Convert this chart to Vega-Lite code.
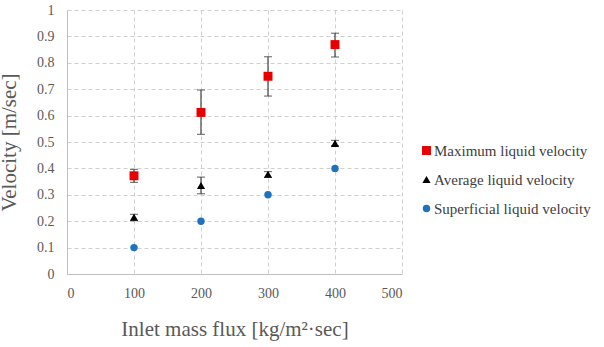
{
  "$schema": "https://vega.github.io/schema/vega-lite/v6.json",
  "autosize": {"type": "none"},
  "width": 335,
  "height": 264,
  "padding": {"left": 67, "top": 10, "right": 202, "bottom": 73},
  "background": "white",
  "config": {
    "view": {"stroke": null},
    "font": "Liberation Serif",
    "style": {"guide-label": {"font": "Liberation Serif"}, "guide-title": {"font": "Liberation Serif"}},
    "axis": {
      "labelFont": "Liberation Serif",
      "titleFont": "Liberation Serif",
      "labelFontSize": 14,
      "labelColor": "#595959",
      "titleColor": "#595959",
      "titleFontSize": 21,
      "titleFontWeight": "normal",
      "domainColor": "#bfbfbf",
      "gridColor": "#d0d0d0",
      "gridDash": [4, 3],
      "ticks": false,
      "labelOverlap": false
    },
    "axisY": {"tickCount": 10, "format": ".1~f", "labelPadding": 13, "titleX": -48},
    "legend": {"labelFont": "Liberation Serif"}
  },
  "data": {
    "values": [
      {"series": "Maximum liquid velocity", "x": 100, "y": 0.372, "lo": 0.347, "hi": 0.396},
      {"series": "Maximum liquid velocity", "x": 200, "y": 0.612, "lo": 0.529, "hi": 0.697},
      {"series": "Maximum liquid velocity", "x": 300, "y": 0.749, "lo": 0.674, "hi": 0.823},
      {"series": "Maximum liquid velocity", "x": 400, "y": 0.869, "lo": 0.822, "hi": 0.912},
      {"series": "Average liquid velocity", "x": 100, "y": 0.215, "lo": 0.202, "hi": 0.226},
      {"series": "Average liquid velocity", "x": 200, "y": 0.335, "lo": 0.304, "hi": 0.367},
      {"series": "Average liquid velocity", "x": 300, "y": 0.378, "lo": 0.366, "hi": 0.388},
      {"series": "Average liquid velocity", "x": 400, "y": 0.495, "lo": 0.486, "hi": 0.506},
      {"series": "Superficial liquid velocity", "x": 100, "y": 0.1, "lo": null, "hi": null},
      {"series": "Superficial liquid velocity", "x": 200, "y": 0.2, "lo": null, "hi": null},
      {"series": "Superficial liquid velocity", "x": 300, "y": 0.3, "lo": null, "hi": null},
      {"series": "Superficial liquid velocity", "x": 400, "y": 0.4, "lo": null, "hi": null}
    ]
  },
  "encoding": {
    "x": {
      "field": "x", "type": "quantitative",
      "scale": {"domain": [0, 500], "nice": false},
      "axis": {"tickCount": 5, "title": "Inlet mass flux [kg/m²·sec]", "labelPadding": 12, "titleY": 44}
    }
  },
  "layer": [
    {
      "transform": [{"filter": "datum.lo != null"}],
      "mark": {"type": "rule", "color": "#404040", "strokeWidth": 1.2},
      "encoding": {
        "y": {
          "field": "lo", "type": "quantitative", "scale": {"domain": [0, 1], "nice": false},
          "axis": {"title": "Velocity [m/sec]"}
        },
        "y2": {"field": "hi"}
      }
    },
    {
      "transform": [{"filter": "datum.lo != null"}],
      "mark": {"type": "tick", "orient": "horizontal", "color": "#404040", "size": 8, "thickness": 1.2},
      "encoding": {"y": {"field": "lo", "type": "quantitative", "axis": {"title": "Velocity [m/sec]"}}}
    },
    {
      "transform": [{"filter": "datum.lo != null"}],
      "mark": {"type": "tick", "orient": "horizontal", "color": "#404040", "size": 8, "thickness": 1.2},
      "encoding": {"y": {"field": "hi", "type": "quantitative", "axis": {"title": "Velocity [m/sec]"}}}
    },
    {
      "mark": {"type": "point", "filled": true, "opacity": 1},
      "encoding": {
        "y": {"field": "y", "type": "quantitative", "axis": {"title": "Velocity [m/sec]"}},
        "color": {
          "field": "series", "type": "nominal",
          "scale": {"domain": ["Maximum liquid velocity", "Average liquid velocity", "Superficial liquid velocity"], "range": ["#e60000", "#000000", "#1f72bd"]},
          "legend": {
            "title": null, "orient": "none", "legendX": 352, "legendY": 133,
            "labelFont": "Liberation Serif", "labelFontSize": 15, "labelColor": "#404040",
            "rowPadding": 13, "symbolSize": 40, "labelOffset": 0
          }
        },
        "shape": {
          "field": "series", "type": "nominal",
          "scale": {"domain": ["Maximum liquid velocity", "Average liquid velocity", "Superficial liquid velocity"], "range": ["square", "triangle-up", "circle"]}
        },
        "size": {
          "field": "series", "type": "nominal",
          "scale": {"domain": ["Maximum liquid velocity", "Average liquid velocity", "Superficial liquid velocity"], "range": [80, 55, 42]},
          "legend": null
        }
      }
    }
  ]
}
